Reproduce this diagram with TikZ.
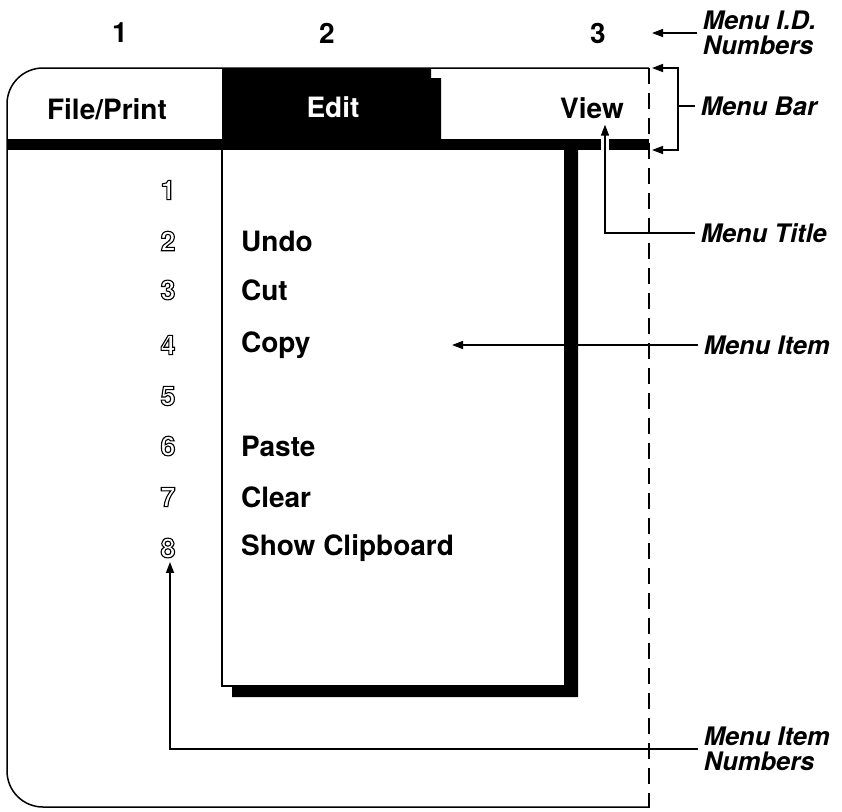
\documentclass[tikz,border=0pt]{standalone}
\usepackage{fontspec}
\setmainfont{TeX Gyre Heros}
\usetikzlibrary{arrows.meta}
% hohle ziffern (nur kontur)
\newcommand{\hohl}[1]{\special{pdf:literal direct 1 Tr 1.1 w}#1\special{pdf:literal direct 0 Tr}}
\begin{document}
\begin{tikzpicture}[x=1pt,y=-1pt,line width=1.5pt,>={Triangle[length=11pt,width=8pt]},
	menu/.style={font=\fontsize{28}{30}\selectfont\bfseries},
	idx/.style={font=\fontsize{27}{28}\selectfont\bfseries},
	lbl/.style={anchor=west,align=left,inner sep=5pt,font=\fontsize{25.5}{26}\selectfont\bfseries\itshape}]
	\useasboundingbox (0,0) rectangle (842,811);
	% fenster, menuleiste
	\draw[rounded corners=36] (649,68) -- (7,68) -- (7,807) -- (649,807);
	\fill (7,139) rectangle (649,150);
	\fill (222,68) -- (431,68) -- (431,78) -- (441,78) -- (441,145) -- (222,145) -- cycle;
	\fill[white] (601,137) rectangle (609,152);
	\node[menu] (idA) at (120,33) {1};
	\node[menu] (idB) at (327,33) {2};
	\node[menu] (idC) at (598,33) {3};
	\node[menu] (file) at (107,109) {File/Print};
	\node[menu,text=white] (edit) at (333,107) {Edit};
	\node[menu] (view) at (592,108) {View};
	% pull-down menue
	\draw (222,150) -- (222,686) -- (566,686);
	\fill (564,150) -- (578,150) -- (578,697) -- (232,697) -- (232,685) -- (564,685) -- cycle;
	\foreach \n/\y/\t in {1/190/,2/241/Undo,3/290/Cut,4/345/Copy,5/396/,6/446/Paste,7/497/Clear,8/548/Show Clipboard}{
		\node[idx] (n\n) at (168,\y) {\hohl{\n}};
		\node[menu,anchor=west] (it\n) at (237,\y) {\t};
	}
	% beschriftung rechts
	\node[lbl] (idlbl) at (697,33) {Menu I.D.\\[-1pt]Numbers};
	\node[lbl] (barlbl) at (695,106) {Menu Bar};
	\node[lbl] (titlelbl) at (695,233) {Menu Title};
	\node[lbl] (itemlbl) at (698,345) {Menu Item};
	\node[lbl] (numlbl) at (698,749) {Menu Item\\[-1pt]Numbers};
	\coordinate (idtip) at (652,33);
	\coordinate (bartop) at (652,68);
	\coordinate (barbot) at (652,150);
	\coordinate (brk) at (678,68);
	\coordinate (itemtip) at (452,345);
	\draw[->] (idlbl.west) -- (idlbl.west -| idtip);
	\draw[<->] (bartop) -- (brk) -- (brk |- barbot) -- (barbot);
	\draw (barlbl.west) -- (barlbl.west -| brk);
	\draw[->] (titlelbl.west) -| ([xshift=13pt,yshift=-2pt]view.south);
	\draw[->] (itemlbl.west) -- (itemtip);
	\draw[->] (numlbl.west) -| ([xshift=2pt]n8.south);
	\draw[dash pattern=on 16pt off 9pt] (649,68) -- (649,808);
\end{tikzpicture}
\end{document}
